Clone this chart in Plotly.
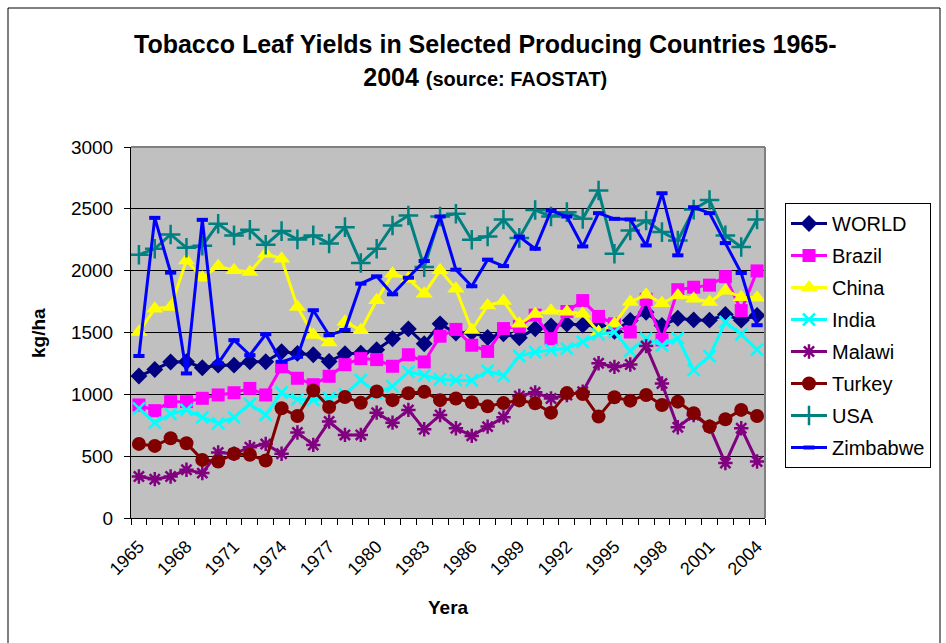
import plotly.graph_objects as go

# Tobacco leaf yields (kg/ha), 1965-2004
years = list(range(1965, 2005))
tick_years = list(range(1965, 2005, 3))

world = [1148, 1201, 1261, 1263, 1215, 1236, 1236, 1263, 1263, 1344,
         1331, 1320, 1266, 1328, 1333, 1360, 1449, 1529, 1409, 1570,
         1495, 1500, 1460, 1489, 1457, 1530, 1552, 1568, 1560, 1550,
         1510, 1597, 1664, 1556, 1615, 1602, 1600, 1645, 1600, 1637]
brazil = [914, 868, 941, 941, 968, 995, 1013, 1048, 995, 1223,
          1130, 1078, 1146, 1240, 1289, 1281, 1227, 1320, 1262, 1470,
          1525, 1397, 1347, 1532, 1550, 1640, 1450, 1670, 1758, 1630,
          1570, 1504, 1768, 1440, 1846, 1866, 1883, 1952, 1677, 1998]
china = [1505, 1693, 1707, 2083, 1943, 2035, 2003, 1989, 2137, 2097,
         1707, 1480, 1420, 1586, 1519, 1761, 1976, 1935, 1814, 2003,
         1853, 1520, 1718, 1755, 1570, 1650, 1676, 1668, 1652, 1504,
         1571, 1746, 1806, 1736, 1800, 1772, 1746, 1837, 1786, 1782]
india = [887, 771, 839, 874, 814, 766, 814, 922, 833, 1013,
         960, 955, 970, 1000, 1114, 1010, 1065, 1181, 1154, 1120,
         1114, 1112, 1190, 1150, 1310, 1342, 1358, 1370, 1424, 1485,
         1504, 1352, 1450, 1396, 1455, 1197, 1309, 1585, 1484, 1362]
malawi = [336, 314, 336, 390, 363, 530, 519, 573, 599, 519,
          691, 591, 780, 672, 672, 852, 771, 874, 718, 833,
          726, 664, 739, 814, 986, 1016, 966, 995, 1021, 1251,
          1222, 1241, 1390, 1088, 734, 833, 739, 444, 726, 457]
turkey = [599, 583, 645, 605, 470, 457, 519, 511, 465, 887,
          825, 1031, 897, 979, 931, 1023, 953, 1009, 1020, 953,
          966, 936, 903, 929, 951, 927, 852, 1010, 1002, 820,
          976, 949, 995, 914, 941, 847, 739, 798, 874, 825]
usa = [2129, 2177, 2293, 2185, 2201, 2379, 2285, 2330, 2209, 2320,
       2253, 2285, 2220, 2352, 2062, 2177, 2365, 2446, 2029, 2438,
       2460, 2250, 2277, 2414, 2265, 2490, 2438, 2473, 2419, 2648,
       2137, 2325, 2406, 2312, 2244, 2494, 2572, 2285, 2191, 2414]
zimbabwe = [1310, 2427, 1984, 1169, 2411, 1250, 1438, 1317, 1486, 1263,
            1304, 1680, 1478, 1520, 1895, 1954, 1809, 1943, 2078, 2438,
            2008, 1874, 2089, 2037, 2275, 2177, 2486, 2438, 2196, 2465,
            2419, 2414, 2204, 2626, 2124, 2513, 2465, 2223, 1981, 1559]

# name, values, colour, marker symbol, marker size, marker outline width
series = [
    ("WORLD", world, "#000080", "diamond", 13, 0),
    ("Brazil", brazil, "#FF00FF", "square", 13, 0),
    ("China", china, "#FFFF00", "triangle-up", 15, 0),
    ("India", india, "#00FFFF", "x-thin-open", 12, 2.5),
    ("Malawi", malawi, "#800080", "asterisk-open", 12, 2.5),
    ("Turkey", turkey, "#800000", "circle", 14, 0),
    ("USA", usa, "#008080", "cross-thin-open", 14, 2.5),
    ("Zimbabwe", zimbabwe, "#0000FF", "line-ew-open", 8, 4),
]

FONT = "Liberation Sans, Arial, sans-serif"

fig = go.Figure()
for name, vals, color, symbol, size, lw in series:
    fig.add_trace(go.Scatter(
        x=years, y=vals, name=name, mode="lines+markers",
        legendgroup=name,
        line=dict(color=color, width=3),
        marker=dict(symbol=symbol, size=size, color=color,
                    line=dict(color=color, width=lw)),
    ))

L, R, T, B = 131, 181, 147, 125
W, H = 946, 643
pw, ph = W - L - R, H - T - B


def px(x):
    return (x - L) / pw


def py(y):
    return (H - B - y) / ph


fig.update_layout(
    width=W, height=H,
    margin=dict(l=L, r=R, t=T, b=B),
    paper_bgcolor="white",
    plot_bgcolor="#C0C0C0",
    font=dict(family=FONT, color="black", size=19),
    legend=dict(
        x=px(785), y=py(203), xanchor="left", yanchor="top",
        bgcolor="white", bordercolor="black", borderwidth=1,
        font=dict(size=20, family=FONT), tracegroupgap=3,
        itemwidth=36,
    ),
    xaxis=dict(
        range=[1964.5, 2004.5], tickmode="array", tickvals=tick_years,
        ticktext=[str(y) for y in tick_years], tickangle=-45,
        ticks="", showgrid=False, zeroline=False,
        showline=True, linecolor="black", linewidth=1,
        tickfont=dict(size=18), ticklabelstandoff=10,
        minor=dict(ticks="outside", tickmode="linear", tick0=1964.5, dtick=1,
                   ticklen=6, tickcolor="black", showgrid=False),
    ),
    yaxis=dict(
        range=[0, 3000], dtick=500, ticks="outside", ticklen=6,
        tickcolor="black", gridcolor="black", gridwidth=1,
        showline=True, linecolor="black", linewidth=1, zeroline=False,
        tickfont=dict(size=19), ticklabelstandoff=7,
    ),
    shapes=[
        # chart frame
        dict(type="rect", xref="paper", yref="paper",
             x0=px(8), x1=px(940), y0=py(660), y1=py(8),
             line=dict(color="black", width=1), layer="below"),
        # plot-area border (top and right)
        dict(type="line", xref="paper", yref="paper", x0=0, x1=1, y0=1, y1=1,
             line=dict(color="#808080", width=2), layer="above"),
        dict(type="line", xref="paper", yref="paper", x0=1, x1=1, y0=0, y1=1,
             line=dict(color="#808080", width=2), layer="above"),
    ],
    annotations=[
        dict(xref="paper", yref="paper", x=px(485), y=py(60),
             xanchor="center", yanchor="middle", showarrow=False,
             text="<b>Tobacco Leaf Yields in Selected Producing Countries 1965-<br>"
                  "2004 <span style='font-size:20px'>(source: FAOSTAT)</span></b>",
             font=dict(size=25, family=FONT)),
        dict(xref="paper", yref="paper", x=px(448), y=py(607),
             xanchor="center", yanchor="middle", showarrow=False,
             text="<b>Yera</b>", font=dict(size=19, family=FONT)),
        dict(xref="paper", yref="paper", x=px(38), y=py(333),
             xanchor="center", yanchor="middle", showarrow=False, textangle=-90,
             text="<b>kg/ha</b>", font=dict(size=19, family=FONT)),
    ],
)

fig.write_html("out.html")
